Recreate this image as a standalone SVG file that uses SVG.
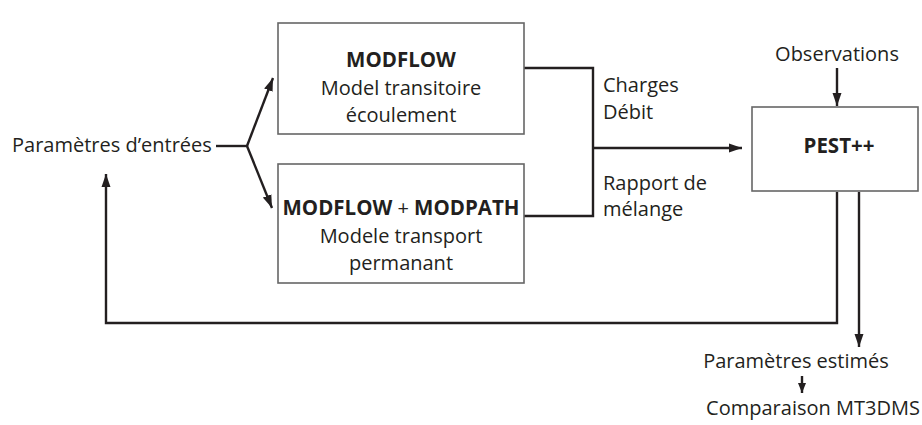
<svg xmlns="http://www.w3.org/2000/svg" width="922" height="425" viewBox="0 0 922 425">
<defs>
<style>
text{font-family:"Open Sans","Liberation Sans",sans-serif;font-size:20px;fill:#231f20}
.b{font-weight:bold;font-size:20.5px}
.box{fill:#fff;stroke:#666;stroke-width:1.6}
.c{fill:none;stroke:#231f20;stroke-width:2.4}
</style>
<marker id="ah" markerUnits="userSpaceOnUse" markerWidth="14" markerHeight="10" refX="13" refY="5" orient="auto">
<path d="M0,0.5 L13,5 L0,9.5 z" fill="#231f20"/>
</marker>
<marker id="ahs" markerUnits="userSpaceOnUse" markerWidth="11" markerHeight="9" refX="10" refY="4" orient="auto">
<path d="M0,0 L10,4 L0,8 z" fill="#231f20"/>
</marker>
</defs>
<g id="connectors">
<path class="c" d="M216,146 H247"/>
<path class="c" d="M247,146 L273,78" marker-end="url(#ah)"/>
<path class="c" d="M247,146 L272,208" marker-end="url(#ah)"/>
<path class="c" d="M524,68 H593 V216 H524"/>
<path class="c" d="M593,148 H742" marker-end="url(#ah)"/>
<path class="c" d="M837,68 V106" marker-end="url(#ah)"/>
<path class="c" d="M837,192 V323 H106 V174" marker-end="url(#ah)"/>
<path class="c" d="M859,192 V347" marker-end="url(#ah)"/>
<path class="c" d="M802,376 V393" marker-end="url(#ahs)" stroke-width="2"/>
</g>
<g id="params-entrees"><text x="12" y="152">Paramètres d’entrées</text></g>
<g id="modflow">
<rect class="box" x="278" y="23" width="246" height="111"/>
<text class="b" x="401" y="67" text-anchor="middle">MODFLOW</text>
<text x="401" y="95" text-anchor="middle">Model transitoire</text>
<text x="401" y="122" text-anchor="middle">écoulement</text>
</g>
<g id="modpath">
<rect class="box" x="278" y="164" width="246" height="119"/>
<text x="401" y="215" text-anchor="middle"><tspan class="b">MODFLOW</tspan> + <tspan class="b">MODPATH</tspan></text>
<text x="401" y="243" text-anchor="middle">Modele transport</text>
<text x="401" y="270" text-anchor="middle">permanant</text>
</g>
<g id="labels">
<text x="603" y="92">Charges</text>
<text x="603" y="119">Débit</text>
<text x="603" y="190">Rapport de</text>
<text x="603" y="216">mélange</text>
</g>
<g id="observations"><text x="837" y="61" text-anchor="middle">Observations</text></g>
<g id="pest">
<rect class="box" x="752" y="107" width="166" height="84"/>
<text class="b" x="839" y="153" text-anchor="middle">PEST++</text>
</g>
<g id="params-estimes"><text x="796" y="368" text-anchor="middle">Paramètres estimés</text></g>
<g id="comparaison"><text x="813" y="415" text-anchor="middle">Comparaison MT3DMS</text></g>
</svg>
